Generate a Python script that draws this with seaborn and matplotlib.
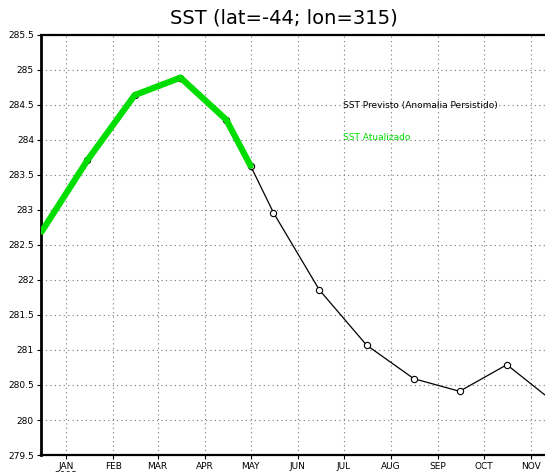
import pandas as pd
import numpy as np
import matplotlib
matplotlib.use("Agg")
import matplotlib.pyplot as plt
import seaborn as sns

# Data
dates_atual = ["2007-12-16", "2008-01-15", "2008-02-15", "2008-03-16",
               "2008-04-15", "2008-05-01"]
sst_atual = [282.69, 283.71, 284.64, 284.89, 284.29, 283.63]

dates_prev = ["2008-01-15", "2008-02-15", "2008-03-16",
              "2008-04-15", "2008-05-01", "2008-05-16", "2008-06-15",
              "2008-07-16", "2008-08-16", "2008-09-15", "2008-10-16",
              "2008-11-15"]
sst_prev = [283.71, 284.64, 284.89, 284.29, 283.63, 282.96, 281.86,
            281.07, 280.59, 280.41, 280.79, 280.27]

month_labels = ["JAN\n2008", "FEB", "MAR", "APR", "MAY", "JUN", "JUL",
                "AUG", "SEP", "OCT", "NOV"]
yticks = np.arange(279.5, 285.51, 0.5)

df_prev = pd.DataFrame({"date": pd.to_datetime(dates_prev), "sst": sst_prev})
df_atual = pd.DataFrame({"date": pd.to_datetime(dates_atual), "sst": sst_atual})

sns.set_style("white")
plt.rcParams["font.family"] = ["DejaVu Sans"]
plt.rcParams["text.color"] = "black"
plt.rcParams["xtick.color"] = "black"
plt.rcParams["ytick.color"] = "black"

fig = plt.figure(figsize=(5.45, 4.72), dpi=100)
ax = fig.add_axes([0.075, 0.036, 0.925, 0.89])

sns.lineplot(data=df_prev, x="date", y="sst", ax=ax, color="black", lw=0.9,
             marker="o", markersize=4.5, markerfacecolor="white",
             markeredgecolor="black", markeredgewidth=0.8, zorder=3)
sns.lineplot(data=df_atual, x="date", y="sst", ax=ax, color="#00dd00", lw=4.5,
             zorder=4)

ax.set_xlim(pd.Timestamp("2007-12-15 12:00"), pd.Timestamp("2008-11-10"))
ax.set_ylim(279.5, 285.5)

month_ticks = pd.date_range("2008-01-01", periods=11, freq="MS")
ax.set_xticks(month_ticks)
ax.set_xticklabels(month_labels, fontsize=6.5, linespacing=0.95)
ax.set_yticks(yticks)
ax.set_yticklabels([f"{v:g}" for v in yticks], fontsize=6.5)
ax.tick_params(axis="both", length=3, width=0.8, color="black", pad=2,
               direction="out", labelcolor="black")
ax.tick_params(axis="x", bottom=True)
ax.tick_params(axis="y", left=True)

ax.grid(True, color="#777777", linestyle=(0, (1, 3)), lw=0.8)
ax.set_xlabel("")
ax.set_ylabel("")

ax.spines["left"].set_linewidth(2)
ax.spines["left"].set_color("black")
ax.spines["right"].set_visible(False)
for side in ["top", "bottom"]:
    ax.spines[side].set_linewidth(1.6)
    ax.spines[side].set_color("black")
    ax.spines[side].set_linestyle((0, (3, 1)))

ax.text(0.6, 0.831, "SST Previsto (Anomalia Persistido)", transform=ax.transAxes,
        fontsize=6.5, color="black", va="center")
ax.text(0.6, 0.757, "SST Atualizado", transform=ax.transAxes,
        fontsize=6.5, color="#00dd00", va="center")

fig.text(0.52, 0.962, "SST (lat=-44; lon=315)", ha="center", va="center",
         fontsize=14, color="black")

fig.savefig("out.png", dpi=100)
